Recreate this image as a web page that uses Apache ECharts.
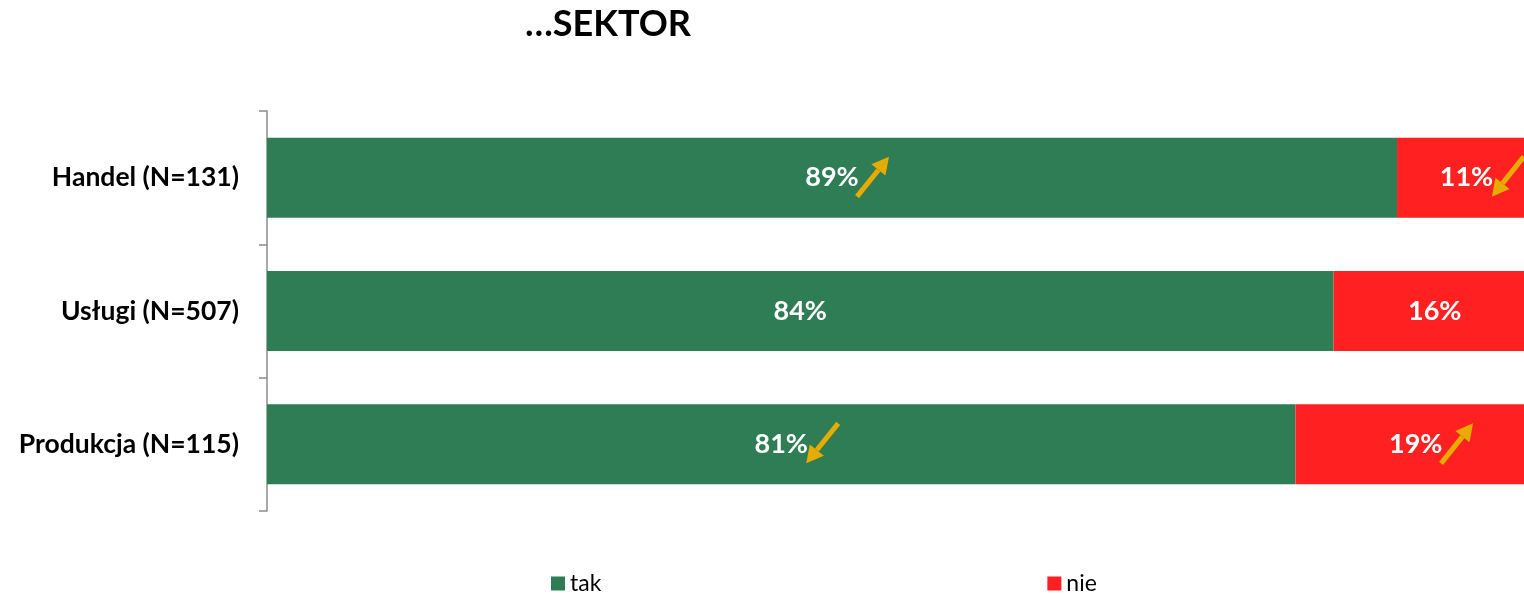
<!DOCTYPE html>
<html>
<head>
<meta charset="utf-8">
<script src="https://cdn.jsdelivr.net/npm/echarts@6/dist/echarts.min.js"></script>
<style>
html,body{margin:0;padding:0;background:#fff;}
#chart{width:1524px;height:594px;}
</style>
</head>
<body>
<div id="chart"></div>
<script>
const titleText = '…SEKTOR';
const categories = ['Handel (N=131)', 'Usługi (N=507)', 'Produkcja (N=115)'];
const seriesNames = ['tak', 'nie'];
const takValues = [89, 84, 81];
const nieValues = [11, 16, 19];
const takTrend = ['up', null, 'down'];
const nieTrend = ['down', null, 'up'];

const FONT = 'Lato, "Noto Sans", sans-serif';
const GREEN = '#2E7D55';
const RED = '#FF2121';
const GOLD = '#E8AC00';

// arrow data: [segmentStart, segmentEnd, categoryIndex, direction]
const arrowData = [];
categories.forEach((c, i) => {
  if (takTrend[i]) arrowData.push([0, takValues[i], i, takTrend[i] === 'up' ? 1 : -1]);
  if (nieTrend[i]) arrowData.push([takValues[i], takValues[i] + nieValues[i], i, nieTrend[i] === 'up' ? 1 : -1]);
});

const chart = echarts.init(document.getElementById('chart'));
chart.setOption({
  animation: false,
  title: {
    text: titleText,
    left: 603, top: 1, textAlign: 'center',
    textStyle: {fontFamily: FONT, fontWeight: 'bold', fontSize: 36, color: '#000'}
  },
  legend: {
    data: seriesNames,
    top: 572,
    left: 551,
    padding: 0,
    itemGap: 446,
    itemWidth: 14, itemHeight: 14,
    icon: 'rect',
    textStyle: {fontFamily: FONT, fontSize: 23, color: '#000'}
  },
  grid: {left: 267, top: 111, right: 0, bottom: 83, containLabel: false},
  xAxis: {
    type: 'value', min: 0, max: 99, show: false
  },
  yAxis: {
    type: 'category', data: categories, inverse: true,
    axisLine: {show: true, lineStyle: {color: '#8c8c8c', width: 1.5}},
    axisTick: {show: true, length: 8, lineStyle: {color: '#8c8c8c', width: 1.5}},
    axisLabel: {fontFamily: FONT, fontWeight: 'bold', fontSize: 26.5, color: '#000', margin: 28}
  },
  series: [
    {
      name: 'tak', type: 'bar', stack: 's', data: takValues, barCategoryGap: '40%',
      itemStyle: {color: GREEN},
      label: {show: true, position: 'inside', formatter: '{c}%', fontFamily: FONT, fontWeight: 'bold', fontSize: 27, color: '#fff'}
    },
    {
      name: 'nie', type: 'bar', stack: 's', data: nieValues,
      itemStyle: {color: RED},
      label: {show: true, position: 'inside', offset: [6, 0], formatter: '{c}%', fontFamily: FONT, fontWeight: 'bold', fontSize: 27, color: '#fff'}
    },
    {
      name: 'trend', type: 'custom', silent: true, clip: false, z: 5,
      data: arrowData,
      encode: {x: [0, 1], y: 2},
      renderItem: function (params, api) {
        const s = api.value(0), e = api.value(1), c = api.value(2), d = api.value(3);
        const p = api.coord([(s + e) / 2, c]);
        const cx = p[0] + 41, cy = p[1] - 1;
        const dx = 16 * d, dy = -20 * d;
        const tail = [cx - dx, cy - dy];
        const head = [cx + dx, cy + dy];
        const len = Math.sqrt(dx * dx + dy * dy) * 2;
        const ux = (head[0] - tail[0]) / len, uy = (head[1] - tail[1]) / len;
        const hl = 17, hw = 9;
        const base = [head[0] - ux * hl, head[1] - uy * hl];
        const nx = -uy, ny = ux;
        return {
          type: 'group',
          children: [
            {type: 'line', shape: {x1: tail[0], y1: tail[1], x2: base[0], y2: base[1]},
             style: {stroke: GOLD, lineWidth: 5}},
            {type: 'polygon', shape: {points: [head, [base[0] + nx * hw, base[1] + ny * hw], [base[0] - nx * hw, base[1] - ny * hw]]},
             style: {fill: GOLD}}
          ]
        };
      }
    }
  ]
});
</script>
</body>
</html>
